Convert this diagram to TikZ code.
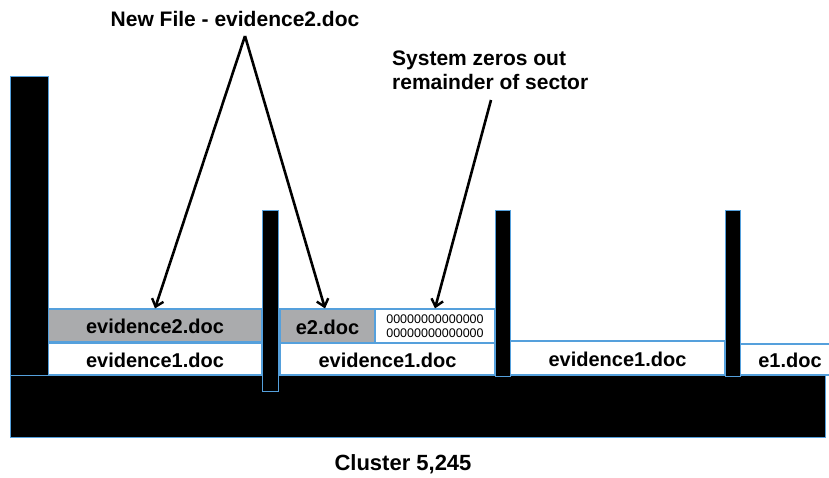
\documentclass[tikz,border=0pt]{standalone}
\usepackage{fontspec}
\setmainfont{Liberation Sans}
\usetikzlibrary{arrows.meta}
\definecolor{edgeblue}{RGB}{85,160,220}
\definecolor{boxgray}{RGB}{170,171,173}
\begin{document}
\begin{tikzpicture}[x=1pt,y=-1pt,
  lbl/.style={font=\fontsize{20}{24}\selectfont\bfseries},
  cellbase/.style={draw=edgeblue, line width=1.2pt, fill=white, inner sep=0pt},
  cell/.style={cellbase, lbl, text height=16.5pt, text depth=0pt},
  graycell/.style={cell, fill=boxgray},
  blk/.style={fill=black, draw=edgeblue, line width=1pt},
  arr/.style={line width=2.6pt, -{Straight Barb[length=7pt,width=12pt,line width=2.4pt]}}
]
\useasboundingbox (0,0) rectangle (829,477);
% file cells
\node[cell, minimum width=214pt, minimum height=32pt] (ev1a) at (155,359) {evidence1.doc};
\node[graycell, minimum width=214pt, minimum height=33pt] (ev2) at (155,325.5) {evidence2.doc};
\node[graycell, minimum width=95pt, minimum height=34pt] (e2) at (327.5,326) {e2.doc};
\node[cellbase, minimum width=120pt, minimum height=34pt, align=center,
  font=\fontsize{12.5}{14}\selectfont] (zeros) at (435,326) {00000000000000\\00000000000000};
\node[cell, minimum width=215pt, minimum height=32pt] (ev1b) at (387.5,359) {evidence1.doc};
\node[cell, minimum width=215pt, minimum height=34pt] (ev1c) at (617.5,358) {evidence1.doc};
\node[cell, minimum width=100pt, minimum height=31pt] (e1) at (790,359.5) {e1.doc};
% black structure
\path[blk] (10,76) rectangle (48,376);
\path[blk] (10,375) rectangle (825,437);
\path[blk] (262,210) rectangle (278,391);
\path[blk] (495,210) rectangle (510,376);
\path[blk] (725,210) rectangle (740,376);
% labels
\node[lbl, font=\fontsize{21}{24}\selectfont\bfseries, anchor=base, inner sep=0pt] (title) at (235,26) {New File - evidence2.doc};
\node[lbl, font=\fontsize{21}{23.5}\selectfont\bfseries, anchor=north west, inner sep=0pt, align=left] (sys) at (392,51) {System zeros out\\remainder of sector};
\node[lbl, font=\fontsize{22}{26}\selectfont\bfseries, anchor=base, inner sep=0pt] (cluster) at (403,470) {Cluster 5,245};
% arrows
\coordinate (apex) at (245,36);
\coordinate (sysfoot) at (491,100);
\draw[arr] (apex) -- (ev2.north);
\draw[arr] (apex) -- ([xshift=-2.5pt]e2.north);
\draw[arr] (sysfoot) -- (zeros.north);
\end{tikzpicture}
\end{document}
